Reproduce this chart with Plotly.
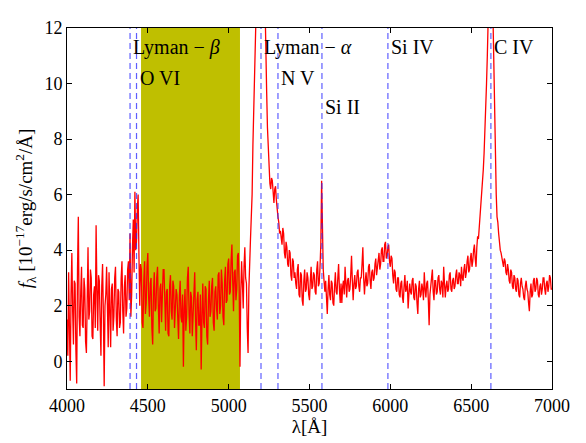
import plotly.graph_objects as go

wl_start = 4000
wl_step = 5
flux = [
    # 4000-4095
    1.5, 0.2, 3.2, 1.0, -0.7, 2.4, 3.9, 1.8, 0.6, 2.9, 2.8, 0.4, -0.8, 3.3, 5.2, 1.6, 0.9, 2.5, 3.4, 1.3,
    # 4100-4195
    1.2, 3.0, 2.6, 0.7, 0.3, 2.2, 4.1, 1.5, 1.8, 3.3, 3.0, 0.9, 0.8, 2.4, 2.7, 1.2, 4.9, 2.6, 1.1, 3.1,
    # 4200-4295
    2.9, 1.4, 0.2, 2.7, 3.5, 1.7, -0.9, 2.0, 2.4, 3.4, 1.3, 0.5, 3.2, 1.9, 0.5, 2.6, 2.8, 1.1, 1.6, 3.0,
    # 4300-4395
    3.4, 1.5, 0.9, 2.6, 2.5, 1.2, 1.4, 3.0, 3.6, 1.8, 1.0, 2.7, 3.1, 1.6, 1.9, 3.3, 3.6, 2.2, 4.6, 1.6,
    # 4400-4495
    2.4, 4.1, 5.1, 3.2, 6.1, 4.0, 4.3, 5.5, 6.0, 3.8, 2.0, 3.5, 3.3, 1.4, 1.2, 2.9, 3.6, 1.7, 2.1, 3.4,
    # 4500-4595
    3.9, 2.3, 1.6, 2.8, 3.0, 1.2, 0.6, 2.5, 3.2, 1.8, 1.9, 3.0, 3.4, 2.0, 1.0, 2.6, 2.8, 1.4, 2.2, 3.3,
    # 4600-4695
    3.3, 1.7, 1.1, 2.5, 2.6, 1.0, 0.9, 2.7, 3.1, 1.8, 1.5, 2.9, 2.7, 1.2, 1.8, 2.6, 2.4, 1.3, 0.8, 2.3,
    # 4700-4795
    2.9, 1.6, 1.4, 2.4, -0.2, 1.9, 2.6, 1.1, 1.6, 3.0, 3.4, 1.7, 1.0, 2.5, 2.3, 0.9, 1.7, 2.8, 3.2, 1.5,
    # 4800-4895
    0.4, 2.2, 2.5, 1.3, 1.3, 2.4, -0.3, 1.6, 2.8, 1.4, 1.2, 2.7, 2.6, 0.9, 0.6, 2.2, 2.9, 1.6, 1.8, 2.7,
    # 4900-4995
    3.0, 1.4, 1.1, 2.5, 2.7, 1.9, 1.5, 3.1, 3.2, 1.7, 2.0, 3.3, 2.8, 1.6, 1.3, 2.9, 3.4, 2.1, 2.2, 3.5,
    # 5000-5095
    3.7, 2.4, 2.5, 3.6, 4.2, 2.9, 1.8, 3.2, 3.3, 2.2, 2.6, 3.8, 3.9, 2.7, -0.2, 2.5, 3.6, 2.8, 1.9, 3.4,
    # 5100-5195
    4.1, 3.0, 2.8, 1.2, 0.3, 2.6, 3.9, 4.4, 5.2, 6.0, 7.8, 9.0, 10.5, 12.0, 13.5, 15.0, 16.0, 17.5, 19.0, 19.5,
    # 5200-5295
    20.0, 19.5, 18.0, 16.0, 14.0, 12.5, 11.0, 9.7, 8.4, 7.6, 7.0, 6.4, 6.2, 6.6, 6.5, 5.9, 5.7, 6.2, 6.3, 5.8,
    # 5300-5395
    5.4, 5.2, 5.0, 4.6, 4.7, 4.4, 4.2, 4.8, 4.6, 3.9, 3.7, 4.3, 4.1, 3.5, 3.4, 4.0, 3.9, 3.1, 2.9, 3.7,
    # 5400-5495
    3.6, 3.0, 3.2, 2.8, 2.6, 3.3, 3.5, 2.4, 2.3, 3.2, 3.1, 2.2, 2.0, 2.9, 3.3, 2.5, 2.6, 3.2, 3.0, 2.4,
    # 5500-5595
    2.2, 2.9, 3.4, 2.6, 2.7, 3.2, 3.1, 2.5, 2.4, 3.3, 3.6, 2.7, 2.8, 3.4, 4.2, 6.5, 3.6, 3.3, 2.9, 2.5,
    # 5600-5695
    2.9, 2.2, 1.7, 2.6, 3.1, 2.4, 2.2, 2.9, 2.8, 2.1, 2.0, 2.7, 3.2, 2.5, 2.4, 3.0, 3.5, 2.6, 2.1, 2.8,
    # 5700-5795
    2.1, 2.7, 2.9, 2.4, 3.4, 2.8, 2.3, 2.9, 3.0, 2.5, 2.6, 3.1, 3.8, 2.9, 2.2, 2.8, 3.1, 2.6, 2.7, 3.2,
    # 5800-5895
    3.3, 2.7, 2.5, 3.0, 3.0, 3.5, 4.1, 3.0, 2.4, 2.9, 3.2, 2.7, 2.8, 3.4, 3.5, 2.9, 2.6, 3.2, 3.3, 2.9,
    # 5900-5995
    3.0, 3.5, 3.7, 3.1, 3.4, 3.8, 3.9, 3.3, 3.5, 4.0, 4.1, 3.6, 3.6, 4.2, 4.3, 3.7, 3.8, 4.1, 4.2, 3.6,
    # 6000-6095
    3.4, 3.8, 3.7, 3.1, 2.8, 3.3, 3.2, 2.6, 2.5, 3.0, 3.0, 2.4, 2.3, 2.8, 2.9, 2.3, 2.1, 2.7, 3.1, 2.5,
    # 6100-6195
    2.6, 2.9, 1.9, 2.4, 2.8, 2.5, 2.4, 2.9, 3.0, 2.3, 2.2, 2.8, 2.7, 2.1, 1.7, 2.6, 2.9, 2.3, 2.4, 2.8,
    # 6200-6295
    2.6, 2.2, 3.2, 2.6, 2.3, 2.8, 2.9, 2.2, 1.3, 2.4, 2.7, 3.0, 3.3, 2.5, 2.2, 2.9, 2.9, 2.4, 2.5, 3.0,
    # 6300-6395
    3.1, 2.6, 2.4, 2.9, 2.8, 2.3, 3.4, 2.8, 2.3, 2.7, 2.9, 2.5, 2.6, 3.1, 3.2, 2.6, 2.5, 2.9, 3.0, 2.6,
    # 6400-6495
    2.7, 3.1, 3.3, 2.8, 2.8, 3.2, 3.1, 2.7, 3.4, 3.0, 2.9, 3.3, 3.5, 3.0, 3.2, 3.6, 3.8, 3.2, 3.3, 3.7,
    # 6500-6595
    3.9, 3.4, 3.6, 4.0, 4.2, 3.7, 3.4, 4.1, 4.5, 4.4, 4.8, 5.2, 5.6, 5.9, 6.3, 6.9, 7.5, 8.2, 9.0, 10.0,
    # 6600-6695
    11.0, 12.5, 14.0, 15.2, 16.0, 15.5, 14.0, 12.2, 10.5, 8.6, 7.0, 6.0, 5.2, 5.0, 4.6, 4.2, 4.0, 3.9, 3.7, 3.5,
    # 6700-6795
    3.4, 3.7, 3.6, 3.2, 3.1, 3.5, 3.3, 2.9, 2.8, 3.3, 3.2, 2.7, 2.6, 3.1, 3.0, 2.6, 2.5, 3.0, 2.9, 2.4,
    # 6800-6895
    2.3, 2.8, 3.0, 2.7, 2.6, 2.3, 2.2, 2.7, 2.9, 2.6, 2.5, 2.1, 1.8, 2.5, 2.8, 2.3, 2.4, 2.9, 3.0, 2.5,
    # 6900-6995
    2.6, 3.0, 2.9, 2.4, 2.3, 2.7, 2.8, 2.4, 2.6, 3.0, 3.0, 2.6, 2.4, 2.8, 2.9, 2.5, 2.7, 3.1, 3.0, 2.6,
    # 7000
    2.6,
]
wavelength = [wl_start + i * wl_step for i in range(len(flux))]

line_names = ["Lyman − <i>β</i>", "O VI", "Lyman − <i>α</i>", "N V", "Si II", "Si IV", "C IV"]
line_wl = [4390, 4430, 5200, 5305, 5577, 5985, 6622]
label_y = [11.3, 10.2, 11.3, 10.2, 9.15, 11.3, 11.3]

shade_range = [4458, 5070]

serif = "Liberation Serif"

fig = go.Figure()
fig.add_trace(go.Scatter(x=wavelength, y=flux, mode="lines",
                         line=dict(color="red", width=1.3), showlegend=False,
                         hoverinfo="skip"))

shapes = [dict(type="rect", xref="x", yref="paper", x0=shade_range[0], x1=shade_range[1],
               y0=0, y1=1, fillcolor="#bfbf00", line=dict(width=0), layer="below")]
for w in line_wl:
    shapes.append(dict(type="line", xref="x", yref="paper", x0=w, x1=w, y0=0, y1=1,
                       line=dict(color="rgba(40,40,255,0.75)", width=1.2, dash="6px,4px"),
                       layer="above"))

annotations = []
for name, w, yv in zip(line_names, line_wl, label_y):
    annotations.append(dict(x=w, y=yv, xref="x", yref="y", text=name, showarrow=False,
                            xanchor="left", yanchor="middle", xshift=1,
                            font=dict(family=serif, size=20, color="black")))

axis_common = dict(showgrid=False, zeroline=False, showline=True, linecolor="black",
                   linewidth=1, mirror="ticks", ticks="inside", ticklen=5,
                   tickcolor="black", automargin=False,
                   tickfont=dict(family=serif, size=18, color="black"))

fig.update_layout(
    width=578, height=435,
    margin=dict(l=59, r=34, t=20, b=54, autoexpand=False),
    paper_bgcolor="white", plot_bgcolor="white",
    shapes=shapes, annotations=annotations,
    xaxis=dict(range=[4000, 7000], tickvals=[4000, 4500, 5000, 5500, 6000, 6500, 7000],
               title=dict(text="λ[Å]", font=dict(family=serif, size=19, color="black"),
                          standoff=2),
               **axis_common),
    yaxis=dict(range=[-1, 12], tickvals=[0, 2, 4, 6, 8, 10, 12],
               title=dict(text="<i>f</i><sub>λ</sub> [10<sup>−17</sup>erg/s/cm<sup>2</sup>/Å]",
                          font=dict(family=serif, size=19, color="black"),
                          standoff=6),
               **axis_common),
)

fig.write_html("out.html")
